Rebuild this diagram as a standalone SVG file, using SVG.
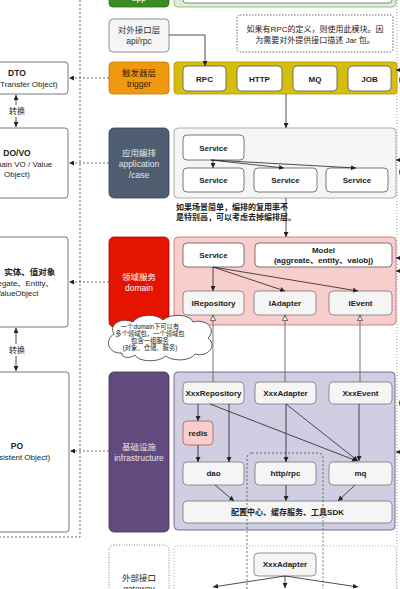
<svg xmlns="http://www.w3.org/2000/svg" width="400" height="589" viewBox="0 0 400 589">
<style>
text{font-family:"Liberation Sans","Noto Sans CJK SC",sans-serif;fill:#222;text-anchor:middle}
.b{font-weight:bold}
.s8{font-size:8px}
.s85{font-size:8.5px}
.s6{font-size:6.3px}
.wbox{fill:#fff;stroke:#555;stroke-width:0.8}
.gbox{fill:#f5f5f5;stroke:#777;stroke-width:0.8}
.ln{stroke:#222;stroke-width:0.8;fill:none}
.dash{stroke:#444;stroke-width:0.8;fill:none;stroke-dasharray:2 2}
.dot{stroke:#555;stroke-width:0.8;fill:none;stroke-dasharray:1 1.5}
.lt{fill:#e6e6e6}
</style>
<defs>
<marker id="ar" viewBox="0 0 6 6" refX="6" refY="3" markerWidth="5" markerHeight="5" orient="auto-start-reverse" markerUnits="userSpaceOnUse">
<path d="M0,0 L6,3 L0,6 z" fill="#222"/>
</marker>
<marker id="tri" viewBox="0 0 8 8" refX="8" refY="4" markerWidth="6" markerHeight="6" orient="auto" markerUnits="userSpaceOnUse">
<path d="M0.5,0.5 L7.5,4 L0.5,7.5 z" fill="#fff" stroke="#333" stroke-width="1"/>
</marker>
</defs>
<rect width="400" height="589" fill="#fff"/>

<!-- boundaries -->
<path class="dash" d="M80,0 V537 H0"/>
<path d="M397,0 V589" stroke="#888" stroke-width="0.8" stroke-dasharray="1 2" fill="none"/>

<!-- left column -->
<g id="dto">
<rect class="wbox" x="-40" y="62" width="108" height="32" rx="3"/>
<text class="b s85" x="17" y="76">DTO</text>
<text class="s8" x="18" y="87">(Data Transfer Object)</text>
</g>
<g id="dovo">
<rect class="wbox" x="-40" y="128" width="108" height="70" rx="3"/>
<text class="b s85" x="17" y="156">DO/VO</text>
<text class="s8" x="17" y="167">(Domain VO / Value</text>
<text class="s8" x="17" y="177">Object)</text>
</g>
<g id="entity">
<rect class="wbox" x="-40" y="237" width="108" height="90" rx="3"/>
<text class="b s85" x="17" y="275">聚合、实体、值对象</text>
<text class="s8" x="17" y="286">Aggregate、Entity、</text>
<text class="s8" x="17" y="296">ValueObject</text>
</g>
<g id="po">
<rect class="wbox" x="-40" y="372" width="109" height="160" rx="3"/>
<text class="b s85" x="17" y="449">PO</text>
<text class="s8" x="17" y="460">(Persistent Object)</text>
</g>

<!-- layer labels -->
<g id="app-layer">
<rect x="109" y="-25" width="60" height="32" rx="4" fill="#3a8c27" stroke="#2d7600" stroke-width="0.8"/>
<text class="s85" x="139" y="1" style="fill:#fff">app</text>
</g>
<g id="app-container">
<rect x="174" y="-40" width="222" height="47" rx="4" fill="#dbeeda" stroke="#82b366" stroke-width="0.8"/>
<rect x="183" y="-30" width="209" height="33" rx="3" fill="#fff" stroke="#666" stroke-width="0.8"/>
</g>
<g id="api-layer">
<rect class="gbox" x="109" y="19" width="60" height="33" rx="4"/>
<text class="s85" x="139" y="33" style="fill:#333">对外接口层</text>
<text class="s85" x="139" y="44" style="fill:#333">api/rpc</text>
</g>
<g id="note-rpc">
<rect x="237" y="15" width="156" height="37" rx="3" fill="#fff" stroke="#444" stroke-width="0.8" stroke-dasharray="1.5 1.5"/>
<text class="s8" x="315" y="32">如果有RPC的定义，则使用此模块。因</text>
<text class="s8" x="315" y="43">为需要对外提供接口描述 Jar 包。</text>
</g>
<g id="trigger-layer">
<rect x="109" y="62" width="60" height="32" rx="4" fill="#f0980f" stroke="#c77700" stroke-width="0.8"/>
<text class="s85" x="139" y="76" style="fill:#3a2200">触发器层</text>
<text class="s85" x="139" y="87" style="fill:#3a2200">trigger</text>
</g>
<g id="trigger-container">
<rect x="174" y="62" width="223" height="32" rx="3" fill="#d8be0c" stroke="#b09500" stroke-width="0.8"/>
<rect class="wbox" x="183" y="66" width="43" height="25" rx="4"/>
<text class="b s8" x="204.5" y="81.5">RPC</text>
<rect class="wbox" x="237" y="66" width="45" height="25" rx="4"/>
<text class="b s8" x="259.5" y="81.5">HTTP</text>
<rect class="wbox" x="293" y="66" width="44" height="25" rx="4"/>
<text class="b s8" x="315" y="81.5">MQ</text>
<rect class="wbox" x="348" y="66" width="43" height="25" rx="4"/>
<text class="b s8" x="369.5" y="81.5">JOB</text>
</g>

<g id="application-layer">
<rect x="109" y="128" width="60" height="70" rx="5" fill="#4f5d70" stroke="#314354" stroke-width="0.8"/>
<text class="s85 lt" x="139" y="156">应用编排</text>
<text class="s85 lt" x="139" y="167">application</text>
<text class="s85 lt" x="139" y="178">/case</text>
</g>
<g id="application-container">
<rect x="174" y="128" width="222" height="70" rx="4" fill="#f5f5f5" stroke="#999" stroke-width="0.8"/>
<rect class="wbox" x="183" y="135" width="61" height="25" rx="4"/>
<text class="b s8" x="213.5" y="150.5">Service</text>
<rect class="wbox" x="183" y="168" width="61" height="24" rx="4"/>
<text class="b s8" x="213.5" y="183">Service</text>
<rect class="wbox" x="254" y="168" width="63" height="24" rx="4"/>
<text class="b s8" x="285.5" y="183">Service</text>
<rect class="wbox" x="326" y="168" width="62" height="24" rx="4"/>
<text class="b s8" x="357" y="183">Service</text>
</g>
<g id="note-app">
<text class="b s8" x="176" y="210" style="text-anchor:start">如果场景简单，编排的复用率不</text>
<text class="b s8" x="176" y="220" style="text-anchor:start">是特别高，可以考虑去掉编排层。</text>
</g>

<g id="domain-layer">
<rect x="109" y="237" width="60" height="90" rx="5" fill="#e51400" stroke="#b20000" stroke-width="0.8"/>
<text class="s85" x="139" y="280" style="fill:#fff">领域服务</text>
<text class="s85" x="139" y="291" style="fill:#fff">domain</text>
</g>
<g id="domain-container">
<rect x="174" y="237" width="222" height="88" rx="4" fill="#f8cecc" stroke="#c06a66" stroke-width="0.8"/>
<rect class="wbox" x="183" y="243" width="61" height="24" rx="4"/>
<text class="b s8" x="213.5" y="258">Service</text>
<rect class="wbox" x="255" y="243" width="137" height="24" rx="4"/>
<text class="b s8" x="323.5" y="253">Model</text>
<text class="b s8" x="323.5" y="263">(aggreate、entity、valobj)</text>
<rect class="gbox" x="183" y="291" width="61" height="24" rx="4"/>
<text class="b s8" x="213.5" y="306">IRepository</text>
<rect class="gbox" x="254" y="291" width="62" height="24" rx="4"/>
<text class="b s8" x="285" y="306">IAdapter</text>
<rect class="gbox" x="329" y="291" width="63" height="24" rx="4"/>
<text class="b s8" x="360.5" y="306">IEvent</text>
</g>

<g id="infra-layer">
<rect x="109" y="372" width="60" height="160" rx="5" fill="#62497e" stroke="#432d57" stroke-width="0.8"/>
<text class="s85 lt" x="139" y="450">基础设施</text>
<text class="s85 lt" x="139" y="461">infrastructure</text>
</g>
<g id="infra-container">
<rect x="174" y="372" width="221" height="158" rx="4" fill="#d0cee2" stroke="#56517e" stroke-width="0.8"/>
<rect class="gbox" x="183" y="382" width="61" height="22" rx="4"/>
<text class="b s8" x="213.5" y="396">XxxRepository</text>
<rect class="gbox" x="255" y="382" width="61" height="22" rx="4"/>
<text class="b s8" x="285.5" y="396">XxxAdapter</text>
<rect class="gbox" x="329" y="382" width="63" height="22" rx="4"/>
<text class="b s8" x="360.5" y="396">XxxEvent</text>
<rect x="183" y="421" width="30" height="24" rx="4" fill="#f8cecc" stroke="#b85450" stroke-width="0.8"/>
<text class="b s8" x="198" y="436">redis</text>
<rect class="gbox" x="183" y="462" width="61" height="23" rx="4"/>
<text class="b s8" x="213.5" y="476">dao</text>
<rect class="gbox" x="255" y="462" width="61" height="23" rx="4"/>
<text class="b s8" x="285.5" y="476">http/rpc</text>
<rect class="gbox" x="329" y="462" width="63" height="23" rx="4"/>
<text class="b s8" x="360.5" y="476">mq</text>
<rect class="gbox" x="183" y="501" width="209" height="22" rx="4"/>
<text class="b s8" x="287.5" y="515">配置中心、缓存服务、工具SDK</text>
</g>
<rect x="247" y="453" width="76" height="200" rx="5" fill="none" stroke="#444" stroke-width="0.8" stroke-dasharray="2 2"/>

<g id="gateway-layer">
<rect x="109" y="545" width="60" height="70" rx="5" fill="#fff" stroke="#666" stroke-width="0.8" stroke-dasharray="1 1.5"/>
<text class="s85" x="139" y="581">外部接口</text>
<text class="s85" x="139" y="592">gateway</text>
</g>
<g id="gateway-container">
<rect x="174" y="546" width="222" height="70" rx="3" fill="none" stroke="#7a9cc0" stroke-width="0.8" stroke-dasharray="1 2"/>
<rect class="gbox" x="254" y="553" width="62" height="23" rx="4"/>
<text class="b s8" x="285" y="567">XxxAdapter</text>
</g>

<g id="cloud">
<path d="M122,353 C108,354 104,340 114,334 C108,324 122,317 133,322 C138,314 156,313 163,320 C171,313 190,314 193,322 C207,318 217,330 208,338 C218,345 208,358 195,354 C190,362 171,361 166,356 C158,363 138,362 135,355 C130,359 121,358 122,353 Z" fill="#fff" stroke="#333" stroke-width="0.8"/>
<text class="s6" x="150" y="329">一个domain下可以有</text>
<text class="s6" x="150" y="336">多个领域包，一个领域包</text>
<text class="s6" x="150" y="343">包含一组服务</text>
<text class="s6" x="150" y="350">(对象、仓储、服务)</text>
</g>

<g id="connectors">
<!-- left conversions -->
<line class="ln" x1="16" y1="95" x2="16" y2="127" marker-start="url(#ar)" marker-end="url(#ar)"/>
<rect x="6" y="105" width="22" height="12" fill="#fff"/>
<text class="s8" x="17" y="114">转换</text>
<line class="ln" x1="16" y1="328" x2="16" y2="371" marker-start="url(#ar)" marker-end="url(#ar)"/>
<rect x="6" y="344" width="22" height="12" fill="#fff"/>
<text class="s8" x="17" y="353">转换</text>
<!-- layer to left -->
<line class="dash" x1="109" y1="78" x2="69" y2="78" marker-end="url(#ar)"/>
<line class="dash" x1="109" y1="163" x2="69" y2="163" marker-end="url(#ar)"/>
<line class="dash" x1="109" y1="282" x2="69" y2="282" marker-end="url(#ar)"/>
<line class="dash" x1="109" y1="451" x2="70" y2="451" marker-end="url(#ar)"/>
<!-- vertical flow -->
<path class="ln" d="M169,35 H205 V66" marker-end="url(#ar)"/>
<line class="ln" x1="286" y1="94" x2="286" y2="128" marker-end="url(#ar)"/>
<line class="ln" x1="286" y1="198" x2="286" y2="237" marker-end="url(#ar)"/>
<!-- application -->
<line class="ln" x1="213" y1="160" x2="213" y2="168" marker-end="url(#ar)"/>
<line class="ln" x1="211" y1="160" x2="284" y2="168" marker-end="url(#ar)"/>
<line class="ln" x1="211" y1="160" x2="356" y2="168" marker-end="url(#ar)"/>
<!-- domain -->
<line class="ln" x1="213" y1="267" x2="213" y2="291" marker-end="url(#ar)"/>
<line class="ln" x1="213" y1="267" x2="285" y2="291" marker-end="url(#ar)"/>
<line class="ln" x1="213" y1="267" x2="358" y2="291" marker-end="url(#ar)"/>
<!-- implements -->
<line stroke="#555" stroke-width="0.8" x1="213" y1="382" x2="213" y2="315" marker-end="url(#tri)"/>
<line stroke="#555" stroke-width="0.8" x1="285" y1="382" x2="285" y2="315" marker-end="url(#tri)"/>
<line stroke="#555" stroke-width="0.8" x1="360" y1="382" x2="360" y2="315" marker-end="url(#tri)"/>
<!-- infrastructure -->
<line class="ln" x1="198" y1="404" x2="198" y2="421" marker-end="url(#ar)"/>
<line class="ln" x1="198" y1="445" x2="198" y2="462" marker-end="url(#ar)"/>
<line class="ln" x1="229" y1="404" x2="229" y2="462" marker-end="url(#ar)"/>
<line class="ln" x1="210" y1="404" x2="357" y2="461" marker-end="url(#ar)"/>
<line class="ln" x1="286" y1="404" x2="286" y2="462" marker-end="url(#ar)"/>
<line class="ln" x1="286" y1="404" x2="358" y2="461" marker-end="url(#ar)"/>
<line class="ln" x1="359" y1="404" x2="359" y2="461" marker-end="url(#ar)"/>
<line class="ln" x1="215" y1="485" x2="234" y2="501" marker-end="url(#ar)"/>
<line class="ln" x1="286" y1="485" x2="286" y2="501" marker-end="url(#ar)"/>
<line class="ln" x1="355" y1="485" x2="338" y2="501" marker-end="url(#ar)"/>
<!-- gateway -->
<line class="ln" x1="285" y1="576" x2="213" y2="587" marker-end="url(#ar)"/>
<line class="ln" x1="285" y1="576" x2="285" y2="588" marker-end="url(#ar)"/>
<line class="ln" x1="285" y1="576" x2="358" y2="587" marker-end="url(#ar)"/>
<!-- right edge -->
<line class="ln" x1="404" y1="70" x2="396" y2="70" marker-end="url(#ar)"/>
<line class="ln" x1="404" y1="160" x2="396" y2="160" marker-end="url(#ar)"/>
<line class="ln" x1="404" y1="258" x2="396" y2="258" marker-end="url(#ar)"/>
<line class="ln" x1="404" y1="271" x2="396" y2="271" marker-end="url(#ar)"/>
<line class="ln" x1="404" y1="452" x2="396" y2="452" marker-end="url(#ar)"/>
</g>
<circle cx="405" cy="80" r="6" fill="#4a5c4a"/>
<circle cx="405" cy="172" r="6" fill="#c8102e"/>
<circle cx="405" cy="403" r="6" fill="#c8102e"/>
</svg>
